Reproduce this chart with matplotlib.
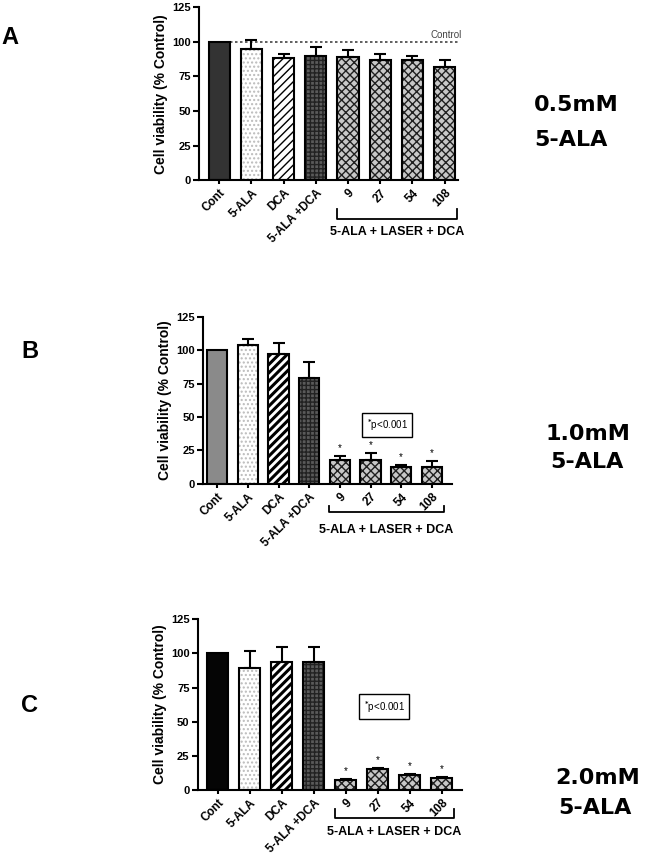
import matplotlib
matplotlib.use("Agg")
import matplotlib.pyplot as plt
import matplotlib.transforms as mtransforms
import numpy as np

plt.rcParams['font.family'] = ['Liberation Sans', 'DejaVu Sans']
plt.rcParams['font.weight'] = 'bold'
plt.rcParams['hatch.linewidth'] = 1.0

categories = ["Cont", "5-ALA", "DCA", "5-ALA +DCA", "9", "27", "54", "108"]
group_label = "5-ALA + LASER + DCA"
yticks = [0, 25, 50, 75, 100, 125]

# Panel A: 0.5 mM 5-ALA
vals_a = [100, 95, 88, 90, 89, 87, 87, 82]
err_a = [0, 6, 3, 6, 5, 4.5, 3, 5]
# Panel B: 1.0 mM 5-ALA
vals_b = [100, 104, 97, 79, 18, 18, 13, 13]
err_b = [0, 4, 8, 12, 3, 5, 1, 4]
# Panel C: 2.0 mM 5-ALA
vals_c = [100, 89, 94, 94, 7.5, 15, 11, 8.5]
err_c = [0, 13, 11, 11, 0.8, 1, 1, 0.8]

fig = plt.figure(figsize=(6.53, 8.58), dpi=100)

def draw_panel(rect, vals, errs, cont_color, stripe_lw, xlim, bracket_y, sig=None, control_line=False):
    ax = fig.add_axes(rect)
    x = np.arange(len(vals))
    w = 0.66
    styles = [
        dict(fc=cont_color, hatch=None, hc=None),
        dict(fc='white', hatch='....', hc='#bbbbbb'),
        dict(fc='white', hatch='////', hc='black'),
        dict(fc='#5a5a5a', hatch='++++', hc='#222222'),
    ] + [dict(fc='#c8c8c8', hatch='xxxx', hc='#202020')] * 4
    for i, (v, s) in enumerate(zip(vals, styles)):
        if s['hatch']:
            lw = stripe_lw if s['hatch'] == '////' else 1.0
            plt.rcParams['hatch.linewidth'] = lw
            ax.bar(x[i], v, w, color=s['fc'], edgecolor=s['hc'], hatch=s['hatch'], linewidth=0, zorder=2)
        else:
            ax.bar(x[i], v, w, color=s['fc'], linewidth=0, zorder=2)
        ax.bar(x[i], v, w, fill=False, edgecolor='black', linewidth=1.5, zorder=3)
    plt.rcParams['hatch.linewidth'] = 1.0
    for i in range(len(vals)):
        if errs[i] > 0:
            ax.errorbar(x[i], vals[i], yerr=[[0], [errs[i]]], fmt='none', ecolor='black',
                        elinewidth=1.5, capsize=4, capthick=1.5, zorder=4)
    ax.set_xlim(*xlim)
    ax.set_ylim(0, 125)
    ax.set_yticks(yticks)
    ax.set_yticklabels([str(t) for t in yticks], fontsize=8, fontweight='bold')
    ax.set_xticks(x)
    ax.set_xticklabels(categories, rotation=45, ha='right', rotation_mode='anchor',
                       fontsize=8.5, fontweight='bold')
    ax.set_ylabel("Cell viability (% Control)", fontsize=10, fontweight='bold', labelpad=3)
    for sp in ['top', 'right']:
        ax.spines[sp].set_visible(False)
    for sp in ['left', 'bottom']:
        ax.spines[sp].set_linewidth(1.5)
    ax.tick_params(axis='both', width=1.5, length=4, pad=2)
    ax.tick_params(axis='x', length=3)
    # bracket under laser group
    trans = mtransforms.blended_transform_factory(ax.transData, ax.transAxes)
    top, hor, ty = bracket_y
    x0, x1 = 4 - 0.35, 7 + 0.38
    ax.plot([x0, x0, x1, x1], [top, hor, hor, top], color='black', lw=1.3,
            transform=trans, clip_on=False)
    ax.text((x0 + x1) / 2, ty, group_label, transform=trans, ha='center', va='center',
            fontsize=9, fontweight='bold')
    if control_line:
        ax.plot([0.35, xlim[1]], [100, 100], ls=(0, (1.5, 1.5)), color='#444444', lw=1.2, zorder=1)
        ax.text(xlim[1] + 0.1, 101, "Control", ha='right', va='bottom', fontsize=7,
                fontweight='normal', color='#444444')
    if sig is not None:
        bx, by = sig
        ax.text(bx, by, r"$^{*}$p<0.001", ha='center', va='center', fontsize=7,
                fontweight='normal',
                bbox=dict(boxstyle='square,pad=0.45', fc='white', ec='black', lw=1.0))
        for i in range(4, 8):
            ax.text(x[i], vals[i] + errs[i] + 2, "*", ha='center', va='bottom', fontsize=7,
                    fontweight='normal')
    return ax

draw_panel([0.305, 0.790, 0.397, 0.2016], vals_a, err_a, '#333333', 1.0,
           (-0.62, 7.43), (-0.168, -0.225, -0.30), control_line=True)
draw_panel([0.311, 0.436, 0.381, 0.195], vals_b, err_b, '#8a8a8a', 2.2,
           (-0.46, 7.65), (-0.132, -0.168, -0.275), sig=(5.54, 44))
draw_panel([0.303, 0.0793, 0.404, 0.199], vals_c, err_c, '#050505', 2.2,
           (-0.62, 7.62), (-0.111, -0.164, -0.246), sig=(5.2, 61))

# panel letters
fig.text(10 / 653, 1 - 38 / 858, "A", fontsize=17, fontweight='bold', ha='center', va='center')
fig.text(30 / 653, 1 - 352 / 858, "B", fontsize=17, fontweight='bold', ha='center', va='center')
fig.text(30 / 653, 1 - 705 / 858, "C", fontsize=17, fontweight='bold', ha='center', va='center')

# concentration labels
big = dict(fontsize=16, fontweight='bold', ha='left', va='center', family='DejaVu Sans')
fig.text(534 / 653, 1 - 105 / 858, "0.5mM", **big)
fig.text(534 / 653, 1 - 140 / 858, "5-ALA", **big)
fig.text(545 / 653, 1 - 434 / 858, "1.0mM", **big)
fig.text(550 / 653, 1 - 462 / 858, "5-ALA", **big)
fig.text(555 / 653, 1 - 778 / 858, "2.0mM", **big)
fig.text(558 / 653, 1 - 808 / 858, "5-ALA", **big)

fig.savefig("out.png", dpi=100)
